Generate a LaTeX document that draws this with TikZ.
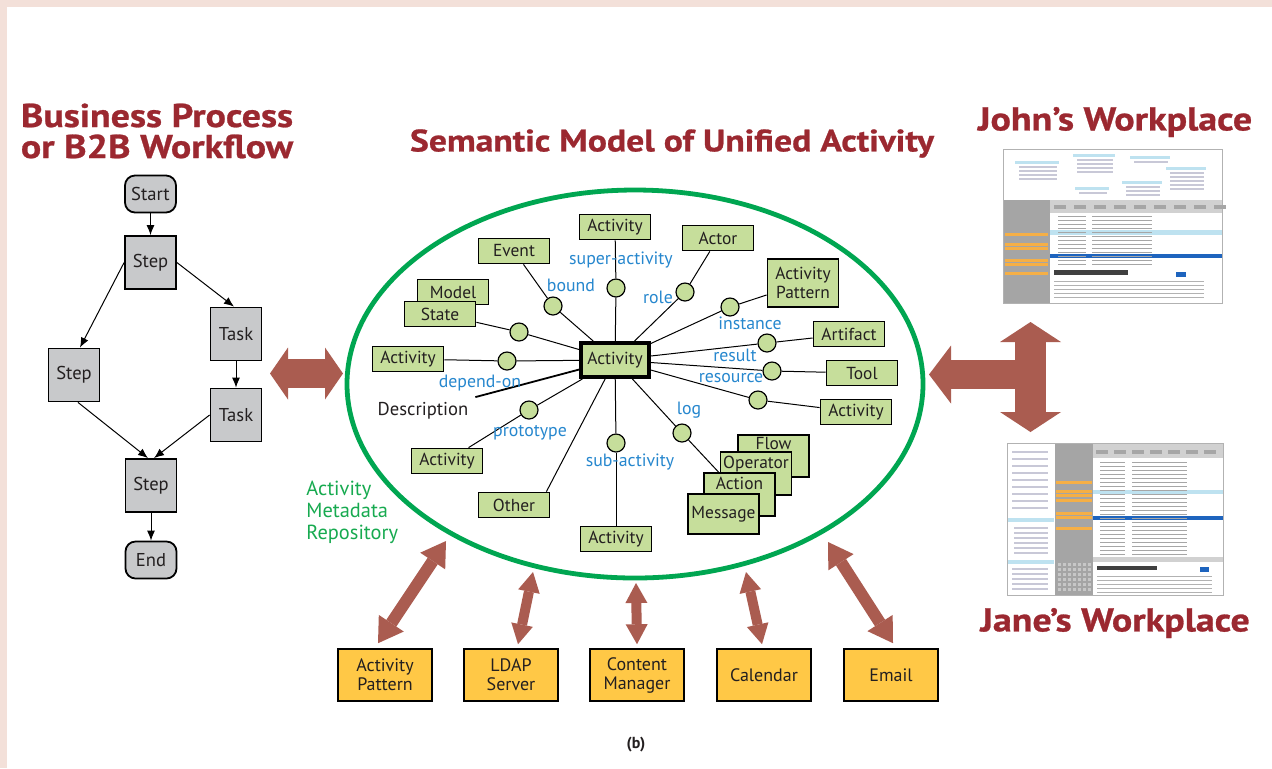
\documentclass[tikz,border=0pt]{standalone}
\usepackage{fontspec}
\setmainfont{PT Sans}
\newfontfamily\headfont{PT Sans}[FakeStretch=1.15,FakeBold=0.8]
\usetikzlibrary{arrows.meta,shapes.geometric}
\definecolor{ink}{RGB}{35,31,32}
\definecolor{pinkbg}{RGB}{243,224,217}
\definecolor{titlered}{RGB}{155,40,48}
\definecolor{arrowred}{RGB}{170,92,80}
\definecolor{flowgray}{RGB}{200,201,203}
\definecolor{nodegreen}{RGB}{198,222,155}
\definecolor{repogreen}{RGB}{0,166,81}
\definecolor{metagreen}{RGB}{23,170,80}
\definecolor{labelblue}{RGB}{38,135,206}
\definecolor{boxyellow}{RGB}{255,200,70}
\definecolor{scrblue}{RGB}{190,226,240}
\definecolor{hlblue}{RGB}{30,100,190}
\definecolor{scrgray}{RGB}{165,165,165}
\definecolor{scrorange}{RGB}{245,175,70}
\definecolor{scrrow}{RGB}{200,200,215}

\begin{document}
\begin{tikzpicture}[x=0.5pt,y=-0.5pt,
  every node/.append style={text=ink},
  headline/.style={text=titlered, font=\headfont\fontsize{16.5}{15.5}\selectfont\bfseries, align=center},
  flowbox/.style={draw, fill=flowgray, line width=0.9pt, minimum width=25.5pt, minimum height=26.5pt, inner sep=1pt, font=\fontsize{9.3}{10}\selectfont},
  flowend/.style={flowbox, rounded corners=5pt, minimum height=18.5pt},
  fwd/.style={-{Latex[length=5pt,width=4pt]}, line width=0.5pt},
  rev/.style={{Latex[length=5pt,width=4pt]}-, line width=0.5pt},
  entity/.style={draw, fill=nodegreen, line width=0.9pt, minimum width=35.5pt, minimum height=12.5pt, inner sep=1pt, font=\fontsize{8.7}{9.5}\selectfont},
  knob/.style={circle, draw, fill=nodegreen, line width=0.6pt, minimum size=9pt, inner sep=0pt},
  spoke/.style={line width=0.5pt},
  rolelabel/.style={text=labelblue, inner sep=0pt, font=\fontsize{8.9}{9.5}\selectfont},
  source/.style={draw, fill=boxyellow, line width=0.8pt, minimum width=47pt, minimum height=26pt, inner sep=1pt, align=center, font=\fontsize{9}{9.5}\selectfont},
  twoway/.style n args={3}{arrowred, line width=#1, {Triangle[length=#2,width=#3,line width=0pt]}-{Triangle[length=#2,width=#3,line width=0pt]}},
  screen/.style={draw=black!30, fill=white, inner sep=0pt, line width=0.4pt}]
\useasboundingbox (0,0) rectangle (1272,768);
\fill[white] (0,0) rectangle (1272,768);
\fill[pinkbg] (0,0) rectangle (1272,7);
\fill[pinkbg] (0,0) rectangle (7,768);

% titles
\node (bp) at (157,131) [headline] {Business Process\\or B2B Workflow};
\node (sm) at (672,143.5) [headline, font=\headfont\fontsize{15.5}{16}\selectfont\bfseries] {Semantic Model of Unified Activity};
\node (jw) at (1115,122) [headline] {John’s Workplace};
\node (jnw) at (1115,623) [headline] {Jane’s Workplace};

% workflow
\node (start) at (150.5,194) [flowend] {Start};
\node (s1) at (150.5,262.5) [flowbox] {Step} edge[rev] (start);
\node (t1) at (236,334) [flowbox] {Task};
\node (s2) at (74,375) [flowbox] {Step};
\node (t2) at (236,415) [flowbox] {Task} edge[rev] (t1);
\node (s3) at (151,485.5) [flowbox] {Step};
\node (stop) at (151,560) [flowend] {End} edge[rev] (s3);
\draw[fwd] (s1.east) -- ([xshift=-1pt]t1.north);
\draw[fwd] (s1.west) -- ([xshift=3pt]s2.north);
\draw[fwd] ([xshift=2pt]s2.south) -- ([xshift=-1.5pt]s3.north);
\draw[fwd] (t2.west) -- ([xshift=1.5pt]s3.north);

% repository
\node (repo) at (635,384) [ellipse, draw=repogreen, line width=2.4pt, minimum width=288pt, minimum height=194pt] {};
\node (meta) at (306,512) [anchor=west, align=left, inner sep=0pt, text=metagreen, font=\fontsize{10.2}{11}\selectfont] {Activity\\Metadata\\Repository};

\node (hub) at (615,360) [entity, line width=2pt, minimum width=34pt, minimum height=17pt] {Activity};
\node (c1) at (616,288) [knob] {} edge[spoke] (hub);
	\node (a1) at (615,227) [entity] {Activity} edge[spoke] (c1);
\node (c2) at (553,306) [knob] {} edge[spoke] (hub);
	\node (ev) at (514,251) [entity] {Event} edge[spoke] (c2);
\node (c3) at (685,292) [knob] {} edge[spoke] (hub);
	\node (actor) at (718,238) [entity] {Actor} edge[spoke] (c3);
\node (c4) at (730,307) [knob] {} edge[spoke] (hub);
	\node (apat) at (803,283) [entity, minimum height=24pt, align=center] {Activity\\Pattern} edge[spoke] (c4);
\node (c5) at (767,343) [knob] {} edge[spoke] (hub);
	\node (art) at (849,334) [entity] {Artifact} edge[spoke] (c5);
\node (c6) at (772,371) [knob] {} edge[spoke] (hub);
	\node (tool) at (862,373) [entity] {Tool} edge[spoke] (c6);
\node (c7) at (758,400) [knob] {} edge[spoke] (hub);
	\node (a7) at (856,412) [entity] {Activity} edge[spoke] (c7);
\node (model) at (453,292) [entity] {Model};
\node (c8) at (519,332) [knob] {} edge[spoke] (hub);
	\node (state) at (440,314) [entity] {State} edge[spoke] (c8);
\node (c9) at (507,361) [knob] {} edge[spoke] (hub);
	\node (a9) at (408,359) [entity] {Activity} edge[spoke] (c9);
\node (desc) at (423,411) [font=\fontsize{9.3}{10}\selectfont] {Description} edge[line width=0.9pt] (hub);
\node (c10) at (529,410) [knob] {} edge[spoke] (hub);
	\node (a10) at (447,461) [entity] {Activity} edge[spoke] (c10);
\node (other) at (514,505) [entity] {Other};
\draw[spoke] ([xshift=-2pt]other.north east) -- (hub);
\node (c11) at (616,443) [knob] {} edge[spoke] (hub);
	\node (a11) at (616,539) [entity] {Activity} edge[spoke] (c11);
\node (c12) at (682,433) [knob] {} edge[spoke] (hub);
	\node (flow) at (773.5,456) [entity, minimum height=21pt, inner ysep=0pt, text height=7pt, text depth=14pt] {Flow};
	\node (oper) at (756,473.5) [entity, minimum height=21.5pt, inner ysep=0pt, text height=8pt, text depth=13.5pt] {Operator};
	\node (act) at (739.5,494.5) [entity, minimum height=21.5pt, inner ysep=0pt, text height=8pt, text depth=13.5pt] {Action} edge[spoke] (c12);
	\node (msg) at (723.5,514) [entity, minimum height=20pt] {Message};

% relation names
\node (l1) at (621,260) [rolelabel] {super-activity};
\node (l2) at (571,285) [rolelabel] {bound};
\node (l3) at (658,297) [rolelabel] {role};
\node (l4) at (750,323) [rolelabel] {instance};
\node (l5) at (735,355) [rolelabel] {result};
\node (l6) at (731,378) [rolelabel] {resource};
\node (l7) at (480,383) [rolelabel] {depend-on};
\node (l8) at (530,433) [rolelabel] {prototype};
\node (l9) at (630,462) [rolelabel] {sub-activity};
\node (l10) at (689,410) [rolelabel] {log};

% data sources
\node (pat) at (385,675) [source] {Activity\\Pattern};
\node (ldap) at (511,675) [source] {LDAP\\Server};
\node (cms) at (637,675) [source] {Content\\Manager};
\node (cal) at (764,675) [source] {Calendar};
\node (mail) at (891,675) [source] {Email};
\coordinate (r1) at (446,541);
\coordinate (r2) at (533,572);
\coordinate (r3) at (636,583);
\coordinate (r4) at (746,572);
\coordinate (r5) at (828,542);
\draw[twoway={6pt}{12pt}{15pt}] (r1) -- ([xshift=-3.5pt,yshift=2.5pt]pat.north);
\draw[twoway={5pt}{10pt}{11pt}] (r2) -- ([xshift=3.5pt,yshift=2pt]ldap.north);
\draw[twoway={5pt}{10pt}{11pt}] (r3) -- ([yshift=2pt]cms.north);
\draw[twoway={5pt}{10pt}{11pt}] (r4) -- ([xshift=-1pt,yshift=2pt]cal.north);
\draw[twoway={6pt}{12pt}{15pt}] (r5) -- ([xshift=1pt,yshift=2.5pt]mail.north);

% big arrows
\coordinate (wf-out) at (270,373.5);
\coordinate (repo-in) at (343,373.5);
\draw[twoway={14.5pt}{9pt}{26pt}] (wf-out) -- (repo-in);
\coordinate (john-in) at (1030.5,322);
\coordinate (jane-in) at (1030.5,432);
\coordinate (tee) at (1030.5,374.5);
\coordinate (repo-out) at (929,374.5);
\draw[twoway={15.5pt}{10pt}{30.5pt}] (john-in) -- (jane-in);
\draw[arrowred, line width=14.5pt, -{Triangle[length=11pt,width=29pt,line width=0pt]}] (tee) -- (repo-out);

% John's screen
\node (jscr) at (1112.5,226) [screen, minimum width=109.5pt, minimum height=77pt] {};
\foreach \cx/\cy/\cw/\cn in {1015/161/44/4, 1073/154/42/4, 1130/156/40/1, 1166/167/40/5, 1122/181/40/3, 1075/187/34/1}{
  \fill[scrblue] (\cx,\cy) rectangle ++(\cw,3);
  \foreach \k in {1,...,\cn} \fill[scrrow] (\cx+4,\cy+1+4*\k) rectangle ++(\cw-6,2);
}
\fill[scrgray] (1004,200) rectangle (1050,302.5);
\foreach \y in {233,243,247,259,263,272} \fill[scrorange] (1005,\y) rectangle (1048,\y+3);
\fill[black!18] (1050,200) rectangle (1221.5,213);
\foreach \x in {1054,1074,...,1214} \fill[black!35] (\x,205) rectangle ++(12,4);
\fill[scrblue] (1050,230) rectangle (1221.5,235);
\fill[hlblue] (1050,254) rectangle (1221.5,258);
\foreach \y in {216,220,...,264} {\fill[black!35] (1058,\y) rectangle ++(28,1.2); \fill[black!35] (1092,\y) rectangle ++(60,1.2);}
\fill[black!75] (1054,270) rectangle (1128,275);
\fill[hlblue] (1176,272) rectangle ++(10,5);
\foreach \y in {281,285,...,300} \fill[black!30] (1054,\y) rectangle ++(150,1.2);

% Jane's screen
\node (jnscr) at (1115,519) [screen, minimum width=108pt, minimum height=76pt] {};
\foreach \y in {451,458,...,512} \fill[scrrow] (1012,\y) rectangle ++(36,2);
\fill[scrblue] (1008,518) rectangle (1054,522);
\foreach \y in {527,532,...,555} \fill[scrrow] (1014,\y) rectangle ++(34,2);
\fill[scrblue] (1008,560) rectangle (1054,564);
\foreach \y in {568,573,...,590} \fill[scrrow] (1012,\y) rectangle ++(36,2);
\fill[scrgray] (1055,443.5) rectangle (1093,594.5);
\foreach \y in {481,490,494,499,512,516,527} \fill[scrorange] (1056,\y) rectangle (1092,\y+3);
\foreach \x in {1058,1063,...,1088} \foreach \y in {563,568,...,588} \fill[black!22] (\x,\y) rectangle ++(3,3);
\fill[black!18] (1093,443.5) rectangle (1222.5,458);
\foreach \x in {1096,1114,...,1214} \fill[black!35] (\x,450) rectangle ++(12,4);
\fill[scrblue] (1093,490) rectangle (1222.5,494);
\fill[hlblue] (1093,516) rectangle (1222.5,520);
\foreach \y in {462,466,...,554} {\fill[black!35] (1100,\y) rectangle ++(25,1.2); \fill[black!35] (1132,\y) rectangle ++(55,1.2);}
\fill[black!18] (1093,557) rectangle (1222.5,562);
\fill[black!75] (1097,566) rectangle ++(60,4);
\fill[hlblue] (1200,567) rectangle ++(9,5);
\foreach \y in {576,580,...,592} \fill[black!30] (1097,\y) rectangle ++(115,1.2);

\node (cap) at (636,745) [font=\fontsize{8}{9}\selectfont\bfseries] {(b)};
\end{tikzpicture}
\end{document}
